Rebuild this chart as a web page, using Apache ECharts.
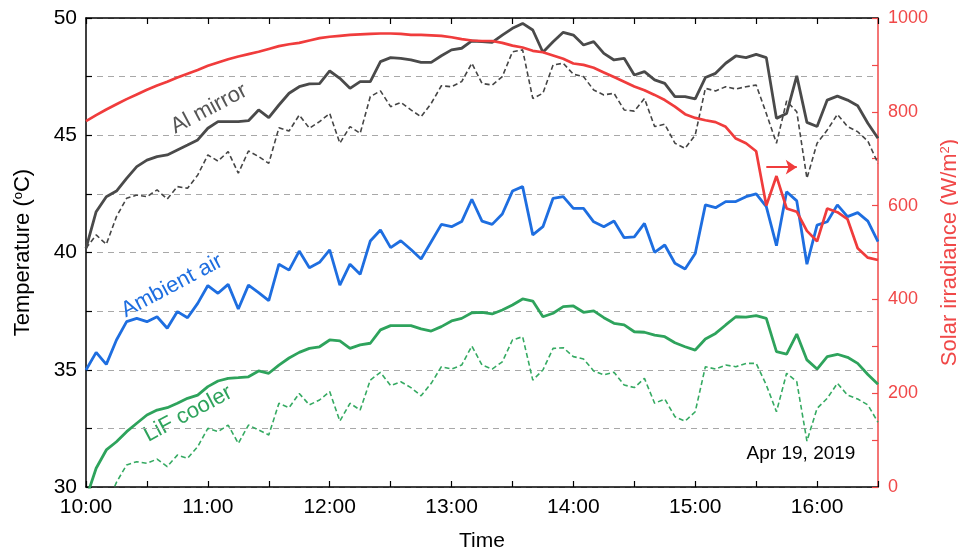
<!DOCTYPE html>
<html><head><meta charset="utf-8">
<script src="https://cdn.jsdelivr.net/npm/echarts@6/dist/echarts.min.js"></script>
<style>html,body{margin:0;padding:0;background:#fff}#c{width:958px;height:554px}</style>
</head><body><div id="c"></div>
<script>
const times = [
 '10:00','10:05','10:10','10:15','10:20','10:25','10:30','10:35','10:40','10:45','10:50','10:55',
 '11:00','11:05','11:10','11:15','11:20','11:25','11:30','11:35','11:40','11:45','11:50','11:55',
 '12:00','12:05','12:10','12:15','12:20','12:25','12:30','12:35','12:40','12:45','12:50','12:55',
 '13:00','13:05','13:10','13:15','13:20','13:25','13:30','13:35','13:40','13:45','13:50','13:55',
 '14:00','14:05','14:10','14:15','14:20','14:25','14:30','14:35','14:40','14:45','14:50','14:55',
 '15:00','15:05','15:10','15:15','15:20','15:25','15:30','15:35','15:40','15:45','15:50','15:55',
 '16:00','16:05','16:10','16:15','16:20','16:25','16:30'];

const alMirror = [
 40.18,41.74,42.38,42.62,43.16,43.66,43.94,44.09,44.16,44.37,44.58,44.80,
 45.30,45.58,45.58,45.58,45.62,46.08,45.75,46.29,46.79,47.07,47.19,47.20,
 47.74,47.43,47.00,47.29,47.29,48.14,48.31,48.28,48.21,48.11,48.11,48.39,
 48.64,48.71,49.02,48.99,48.96,49.27,49.56,49.77,49.49,48.54,48.99,49.39,
 49.27,48.85,48.99,48.49,48.21,48.28,47.57,47.71,47.36,47.21,46.65,46.65,
 46.55,47.46,47.64,48.07,48.38,48.31,48.45,48.31,45.72,45.93,47.53,45.55,
 45.37,46.50,46.67,46.50,46.26,45.51,44.87];

const alMirrorDashed = [
 40.18,40.75,40.35,41.53,42.31,42.45,42.38,42.67,42.28,42.81,42.74,43.30,
 44.16,43.90,44.30,43.38,44.33,44.09,43.80,45.32,45.18,45.86,45.30,45.58,
 45.93,44.66,45.37,45.08,46.65,46.89,46.22,46.40,46.08,45.79,46.36,47.11,
 47.07,47.29,48.07,47.21,47.14,47.50,48.56,48.64,46.57,46.79,48.00,48.07,
 47.60,47.50,46.93,46.72,46.79,46.08,46.03,46.57,45.37,45.47,44.66,44.44,
 45.01,47.00,46.89,47.07,46.97,47.07,47.14,45.93,44.66,46.46,46.00,43.16,
 44.66,45.22,45.89,45.37,45.15,44.75,43.80];

const ambientAir = [
 34.99,35.74,35.23,36.27,37.05,37.19,37.05,37.26,36.77,37.48,37.22,37.83,
 38.59,38.26,38.64,37.59,38.61,38.29,37.95,39.50,39.25,40.06,39.35,39.58,
 40.11,38.61,39.50,39.07,40.49,40.96,40.21,40.50,40.13,39.72,40.46,41.20,
 41.10,41.32,42.27,41.34,41.20,41.64,42.62,42.81,40.75,41.10,42.31,42.38,
 41.88,41.88,41.31,41.10,41.34,40.63,40.67,41.24,40.01,40.32,39.54,39.30,
 39.96,42.03,41.91,42.17,42.17,42.38,42.50,41.96,40.29,42.59,42.20,39.50,
 41.17,41.31,42.03,41.53,41.70,41.34,40.46];

const lifCooler = [
 29.50,30.80,31.58,31.93,32.36,32.72,33.07,33.28,33.38,33.57,33.78,33.92,
 34.28,34.52,34.63,34.66,34.70,34.95,34.85,35.20,35.50,35.74,35.91,35.98,
 36.27,36.23,35.91,36.06,36.13,36.70,36.88,36.88,36.88,36.74,36.65,36.84,
 37.08,37.19,37.43,37.45,37.38,37.55,37.76,38.02,37.93,37.26,37.41,37.69,
 37.72,37.45,37.51,37.22,36.98,36.91,36.62,36.60,36.48,36.41,36.15,35.98,
 35.84,36.31,36.55,36.91,37.26,37.24,37.31,37.19,35.77,35.67,36.52,35.42,
 35.03,35.56,35.66,35.53,35.27,34.80,34.38];

const lifCoolerDashed = [
 28.00,28.60,29.20,30.20,30.94,31.08,31.01,31.19,30.87,31.36,31.22,31.72,
 32.50,32.36,32.64,31.86,32.64,32.43,32.22,33.57,33.38,33.99,33.50,33.71,
 34.07,32.81,33.57,33.28,34.56,34.89,34.32,34.49,34.24,33.89,34.42,35.13,
 35.03,35.20,36.01,35.20,35.03,35.34,36.27,36.41,34.56,34.99,35.91,35.94,
 35.56,35.46,34.95,34.78,34.89,34.35,34.24,34.63,33.57,33.75,33.00,32.81,
 33.21,35.13,35.03,35.20,35.13,35.27,35.27,34.35,33.21,34.85,34.49,31.96,
 33.35,33.78,34.42,33.92,33.75,33.50,32.76];

const irradiance = [
 780,793,805,816,827,837,847,856,864,873,881,889,
 898,905,912,918,923,928,934,940,944,947,952,957,
 960,962,964,965,966,967,967,966,964,964,963,962,
 959,955,952,951,951,947,941,937,930,927,920,913,
 903,900,894,884,874,864,854,846,836,825,811,795,
 787,782,778,768,743,733,716,600,663,594,587,546,
 524,594,586,571,509,489,484];

// red arrow annotation (category index, irradiance)
const arrowStart = [66.6, 682];
const arrowEnd = [69.6, 682];

const tempTicks = {min: 30, max: 50, step: 2.5, labelStep: 5};
const irrTicks = {min: 0, max: 1000, step: 100, labelStep: 200};

const FONT = '"Liberation Sans", Arial, sans-serif';
const RED = '#f03c3c';
const AXRED = '#f04848';

const chart = echarts.init(document.getElementById('c'), null, {renderer: 'canvas'});

function line(name, data, color, width, type, yIdx, z) {
  return {
    type: 'line', name: name, data: data, xAxisIndex: 0, yAxisIndex: yIdx,
    showSymbol: false, symbol: 'none', smooth: false, z: z, silent: true,
    lineStyle: {color: color, width: width, type: type},
    emphasis: {disabled: true}
  };
}

const redSeries = line('Solar irradiance', irradiance, RED, 2.7, 'solid', 1, 8);
redSeries.markLine = {
  silent: true, symbol: ['none', 'arrow'], symbolSize: 11,
  label: {show: false},
  lineStyle: {color: RED, width: 2, type: 'solid'},
  itemStyle: {color: RED},
  emphasis: {disabled: true},
  data: [[{coord: arrowStart}, {coord: arrowEnd}]]
};

const option = {
  animation: false,
  backgroundColor: '#fff',
  textStyle: {fontFamily: FONT},
  grid: {left: 86, right: 80, top: 18, bottom: 67, containLabel: false, outerBoundsMode: 'none'},
  xAxis: [
    {type: 'category', data: times, boundaryGap: false, position: 'bottom',
     axisLine: {lineStyle: {color: '#000', width: 1.5}},
     axisTick: {interval: 5, inside: true, length: 6, lineStyle: {color: '#000', width: 1.2}},
     axisLabel: {interval: 11, color: '#000', fontSize: 21, margin: 10, fontFamily: FONT},
     splitLine: {show: false},
     name: 'Time', nameLocation: 'middle', nameGap: 44,
     nameTextStyle: {fontSize: 21, color: '#000', fontFamily: FONT}},
    {type: 'category', data: times, boundaryGap: false, position: 'top',
     axisLine: {lineStyle: {color: '#000', width: 1.5}},
     axisTick: {interval: 5, inside: true, length: 6, lineStyle: {color: '#000', width: 1.2}},
     axisLabel: {show: false}, splitLine: {show: false}}
  ],
  yAxis: [
    {type: 'value', min: tempTicks.min, max: tempTicks.max, interval: tempTicks.step, position: 'left',
     axisLine: {show: true, lineStyle: {color: '#000', width: 1.5}},
     axisTick: {show: true, inside: true, length: 6, lineStyle: {color: '#000', width: 1.2}},
     axisLabel: {color: '#000', fontSize: 21, margin: 9, fontFamily: FONT,
       formatter: v => (v % tempTicks.labelStep === 0 ? String(v) : '')},
     splitLine: {show: true, lineStyle: {color: '#a8a8a8', type: [6, 5], width: 1.2}},
     name: 'Temperature ({sup|o}C)', nameLocation: 'middle', nameGap: 52, nameRotate: 90,
     nameTextStyle: {fontSize: 22, color: '#000', fontFamily: FONT,
       rich: {sup: {fontSize: 13, verticalAlign: 'top', fontFamily: FONT, color: '#000'}}}},
    {type: 'value', min: irrTicks.min, max: irrTicks.max, interval: irrTicks.step, position: 'right',
     axisLine: {show: true, lineStyle: {color: AXRED, width: 1.5}},
     axisTick: {show: true, inside: true, length: 6, lineStyle: {color: AXRED, width: 1.2}},
     axisLabel: {color: AXRED, fontSize: 18, margin: 10, fontFamily: FONT,
       formatter: v => (v % irrTicks.labelStep === 0 ? String(v) : '')},
     splitLine: {show: false},
     name: 'Solar irradiance (W/m{sup|2})', nameLocation: 'middle', nameGap: 52, nameRotate: 90,
     nameTextStyle: {fontSize: 22, color: AXRED, fontFamily: FONT,
       rich: {sup: {fontSize: 13, verticalAlign: 'top', fontFamily: FONT, color: AXRED}}}}
  ],
  series: [
    line('Al mirror (dashed)', alMirrorDashed, '#454545', 1.6, [5, 3], 0, 2),
    line('LiF cooler (dashed)', lifCoolerDashed, '#35aa62', 1.6, [5, 3], 0, 2),
    line('Al mirror', alMirror, '#4a4a4a', 2.8, 'solid', 0, 3),
    line('LiF cooler', lifCooler, '#2ea35c', 2.8, 'solid', 0, 3),
    line('Ambient air', ambientAir, '#1e6ee0', 2.8, 'solid', 0, 4),
    redSeries
  ],
  graphic: [
    {type: 'text', x: 209, y: 109, rotation: 28 * Math.PI / 180, silent: true,
     style: {text: 'Al mirror', fill: '#555555', fontSize: 22, fontFamily: FONT, align: 'center', verticalAlign: 'middle'}},
    {type: 'text', x: 172, y: 286, rotation: 28 * Math.PI / 180, silent: true,
     style: {text: 'Ambient air', fill: '#1e6ee0', fontSize: 22, fontFamily: FONT, align: 'center', verticalAlign: 'middle'}},
    {type: 'text', x: 188, y: 414, rotation: 28 * Math.PI / 180, silent: true,
     style: {text: 'LiF cooler', fill: '#2ea35c', fontSize: 22, fontFamily: FONT, align: 'center', verticalAlign: 'middle'}},
    {type: 'text', x: 801, y: 454, silent: true,
     style: {text: 'Apr 19, 2019', fill: '#000', fontSize: 19, fontFamily: FONT, align: 'center', verticalAlign: 'middle'}}
  ]
};
chart.setOption(option);
</script>
</body></html>
